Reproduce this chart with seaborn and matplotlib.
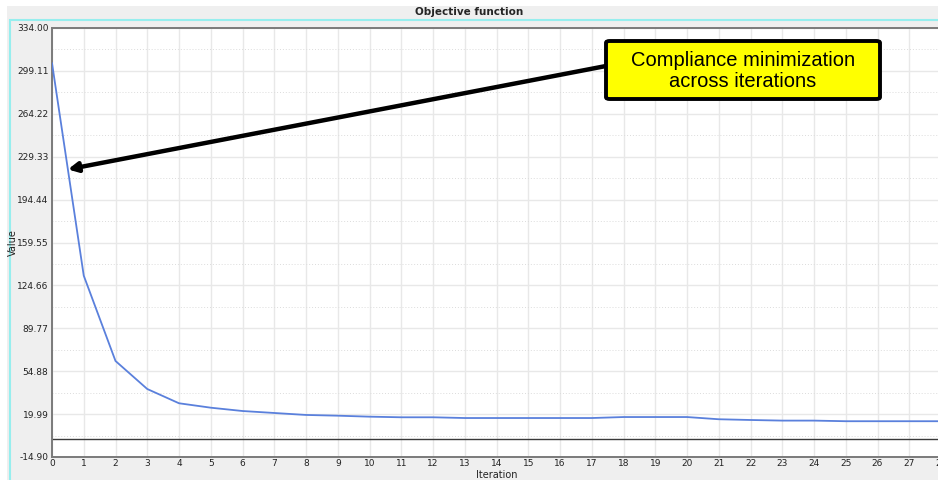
import numpy as np
import pandas as pd
import matplotlib
matplotlib.use("Agg")
import matplotlib.pyplot as plt
from matplotlib.patches import Rectangle, FancyBboxPatch
from matplotlib.ticker import MultipleLocator, FixedLocator
import seaborn as sns

# Objective (compliance) value per optimisation iteration
iterations = list(range(29))
objective = [305.5, 132.6, 63.2, 40.4, 28.8, 25.2, 22.5, 20.9, 19.3, 18.7,
             17.9, 17.4, 17.4, 16.8, 16.8, 16.8, 16.8, 16.8, 17.6, 17.6,
             17.6, 15.8, 15.2, 14.7, 14.7, 14.2, 14.2, 14.2, 14.2]

y_min, y_max = -14.90, 334.00
y_ticks = np.linspace(y_min, y_max, 11)
y_tick_labels = [f"{v:.2f}" for v in y_ticks]

title = "Objective function"
callout = "Compliance minimization\nacross iterations"

df = pd.DataFrame({"Iteration": iterations, "Value": objective})

sns.set_style("white")
plt.rcParams["font.family"] = ["Liberation Sans", "DejaVu Sans"]

W, H = 938, 480
fig = plt.figure(figsize=(W / 100, H / 100), dpi=100)
panel_bg = "#efefef"
fig.patch.set_facecolor("white")


def fx(px):
    return px / W


def fy(py):
    return 1 - py / H


# grey panel with cyan frame behind the plot
fig.patches.append(Rectangle((fx(7), 0), 1, fy(6), transform=fig.transFigure,
                             facecolor=panel_bg, edgecolor="none", zorder=-3))
fig.patches.append(Rectangle((fx(10), -0.05), 1.05, fy(20) + 0.05,
                             transform=fig.transFigure, facecolor="none",
                             edgecolor="#96eeee", linewidth=1.5, zorder=-2))
fig.text(0.5, fy(12), title, ha="center", va="center",
         fontsize=7.5, fontweight="bold", family="DejaVu Sans")

ax = fig.add_axes([fx(52), 23 / H, 889 / W, 429 / H])
ax.set_facecolor("white")

sns.lineplot(data=df, x="Iteration", y="Value", ax=ax, color="#5a80dc",
             linewidth=1.3, zorder=3)
ax.axhline(0, color="#3a3a3a", linewidth=1.0, zorder=2)

ax.set_xlim(0, 28)
ax.set_ylim(y_min, y_max)
ax.xaxis.set_major_locator(MultipleLocator(1))
ax.set_yticks(y_ticks)
ax.set_yticklabels(y_tick_labels)
ax.yaxis.set_minor_locator(FixedLocator((y_ticks[:-1] + y_ticks[1:]) / 2))

ax.grid(True, which="major", color="#e8e8e8", linewidth=1.0, linestyle="-")
ax.grid(True, which="minor", axis="y", color="#dcdcdc", linewidth=0.7,
        linestyle=(0, (1, 2)))
ax.set_axisbelow(True)

ax.tick_params(axis="both", which="major", labelsize=6.5, length=1.5,
               width=0.8, color="#808080", pad=1.0, labelcolor="#222222")
ax.tick_params(axis="x", which="major", pad=0.3)
ax.tick_params(axis="y", which="minor", length=0)
for lab in ax.get_xticklabels() + ax.get_yticklabels():
    lab.set_family("DejaVu Sans")

for side in ["left", "bottom", "top"]:
    ax.spines[side].set_visible(True)
    ax.spines[side].set_color("#7a7a7a")
    ax.spines[side].set_linewidth(1.4)
ax.spines["right"].set_visible(False)

ax.set_xlabel("Iteration", fontsize=7, family="DejaVu Sans", color="#222222")
ax.set_ylabel("Value", fontsize=7, family="DejaVu Sans", color="#222222")
ax.xaxis.set_label_coords(0.5, -0.031)
ax.yaxis.set_label_coords(-0.038, 0.5)

# call-out box
box_l, box_t, box_r, box_b = 606, 41, 880, 99
fig.patches.append(FancyBboxPatch(
    (fx(box_l), fy(box_b)), fx(box_r) - fx(box_l), fy(box_t) - fy(box_b),
    boxstyle="round,pad=0,rounding_size=0.004", transform=fig.transFigure,
    facecolor="#ffff00", edgecolor="black", linewidth=2.8, zorder=6))
fig.text(fx((box_l + box_r) / 2), fy((box_t + box_b) / 2 + 1), callout,
         ha="center", va="center", fontsize=14.5, color="black",
         linespacing=1.15, zorder=7)

# arrow from the box to the first drop of the curve
ax.annotate("", xy=(0.5, 219.0), xycoords="data",
            xytext=(fx(box_l), fy(66)), textcoords="figure fraction",
            arrowprops=dict(arrowstyle="-|>,head_length=0.55,head_width=0.28",
                            color="black", linewidth=3.2,
                            shrinkA=0, shrinkB=0),
            zorder=5)

fig.savefig("out.png", dpi=100, facecolor=fig.get_facecolor())
